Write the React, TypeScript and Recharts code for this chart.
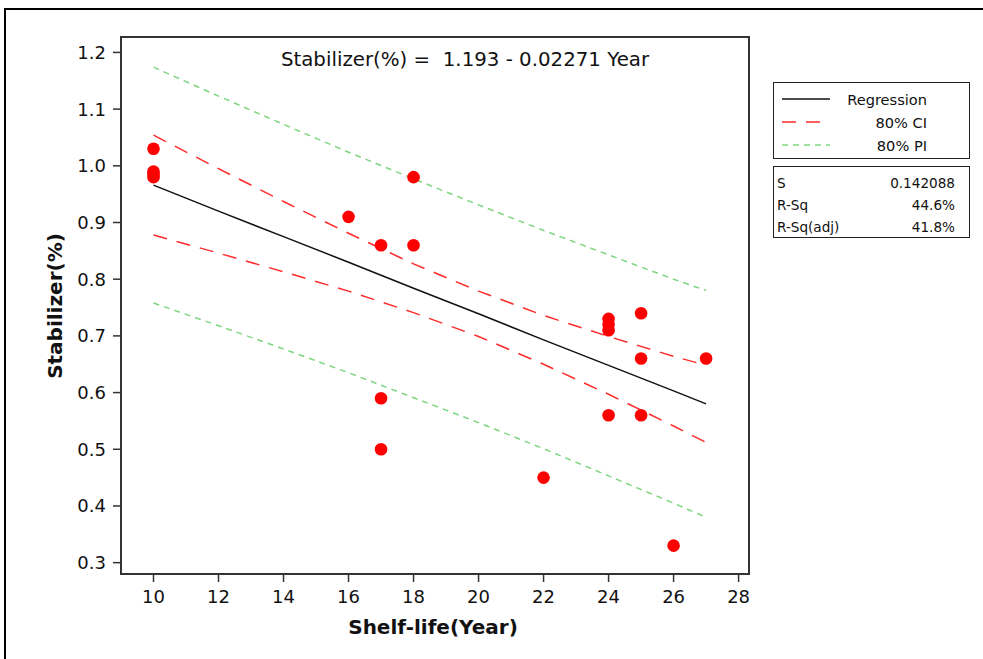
import React from "react";
import { ComposedChart, XAxis, YAxis, Line, Scatter, ReferenceArea } from "recharts";

// Observed data points
const pointX = [10, 10, 10, 10, 16, 17, 17, 17, 18, 18, 22, 24, 24, 24, 24, 25, 25, 25, 26, 27];
const pointY = [1.03, 0.99, 0.985, 0.98, 0.91, 0.86, 0.59, 0.5, 0.98, 0.86, 0.45, 0.73, 0.72, 0.71, 0.56, 0.74, 0.66, 0.56, 0.33, 0.66];

// Fitted line and bands
const lineX = [10, 12, 14, 16, 18, 20, 22, 24, 26, 27];
const regression = [0.966, 0.92, 0.875, 0.83, 0.784, 0.739, 0.693, 0.648, 0.603, 0.58];
const ciUpper = [1.054, 0.995, 0.937, 0.881, 0.827, 0.779, 0.736, 0.699, 0.664, 0.648];
const ciLower = [0.878, 0.846, 0.813, 0.779, 0.741, 0.699, 0.65, 0.597, 0.541, 0.512];
const piUpper = [1.174, 1.123, 1.073, 1.024, 0.977, 0.931, 0.886, 0.843, 0.8, 0.78];
const piLower = [0.758, 0.718, 0.677, 0.635, 0.591, 0.547, 0.501, 0.453, 0.405, 0.38];

const xDomain: [number, number] = [9, 28.32];
const yDomain: [number, number] = [0.28, 1.2272];
const xTicks = [10, 12, 14, 16, 18, 20, 22, 24, 26, 28];
const yTicks = [0.3, 0.4, 0.5, 0.6, 0.7, 0.8, 0.9, 1.0, 1.1, 1.2];

const titleText = "Stabilizer(%) =  1.193 - 0.02271 Year";
const xTitle = "Shelf-life(Year)";
const yTitle = "Stabilizer(%)";
const legendItems = ["Regression", "80% CI", "80% PI"];
const statLabels = ["S", "R-Sq", "R-Sq(adj)"];
const statValues = ["0.142088", "44.6%", "41.8%"];

const points = pointX.map((x, i) => ({ x, y: pointY[i] }));
const mk = (ys: number[]) => lineX.map((x, i) => ({ x, y: ys[i] }));

const FONT = "'DejaVu Sans', Verdana, sans-serif";
const AX = "#333";
const RED = "#ff2a2a";
const GREEN = "#7fd67f";

export default function App() {
  const tickStyle = { fontSize: 18, fill: "#111", fontFamily: FONT };
  return (
    <div
      style={{
        position: "fixed",
        left: 0,
        top: 0,
        width: 983,
        height: 659,
        overflow: "hidden",
        background: "#fff",
        fontFamily: FONT,
      }}
    >
      {/* outer frame */}
      <div style={{ position: "absolute", left: 4, top: 8, width: 2, height: 660, background: "#000" }} />
      <div style={{ position: "absolute", left: 4, top: 8, width: 990, height: 2, background: "#000" }} />

      <div style={{ position: "absolute", left: 0, top: 0 }}>
        <ComposedChart
          width={983}
          height={659}
          margin={{ top: 37, right: 234, bottom: 25, left: 61 }}
        >
          <XAxis
            type="number"
            dataKey="x"
            domain={xDomain}
            ticks={xTicks}
            allowDataOverflow
            height={60}
            tickSize={8}
            tickMargin={8}
            tick={tickStyle}
            axisLine={{ stroke: AX, strokeWidth: 2 }}
            tickLine={{ stroke: AX, strokeWidth: 1.5 }}
          />
          <YAxis
            type="number"
            domain={yDomain}
            ticks={yTicks}
            allowDataOverflow
            width={60}
            tickSize={8}
            tickMargin={7}
            tick={tickStyle}
            tickFormatter={(v: number) => v.toFixed(1)}
            axisLine={{ stroke: AX, strokeWidth: 2 }}
            tickLine={{ stroke: AX, strokeWidth: 1.5 }}
          />
          <ReferenceArea
            x1={xDomain[0]}
            x2={xDomain[1]}
            y1={yDomain[0]}
            y2={yDomain[1]}
            fill="none"
            fillOpacity={0}
            stroke={AX}
            strokeWidth={2}
            ifOverflow="visible"
          />
          <Line data={mk(piUpper)} dataKey="y" stroke={GREEN} strokeWidth={1.5}
            strokeDasharray="6 5" dot={false} isAnimationActive={false} />
          <Line data={mk(piLower)} dataKey="y" stroke={GREEN} strokeWidth={1.5}
            strokeDasharray="6 5" dot={false} isAnimationActive={false} />
          <Line data={mk(ciUpper)} dataKey="y" stroke={RED} strokeWidth={1.5}
            strokeDasharray="14 10" dot={false} isAnimationActive={false} />
          <Line data={mk(ciLower)} dataKey="y" stroke={RED} strokeWidth={1.5}
            strokeDasharray="14 10" dot={false} isAnimationActive={false} />
          <Line data={mk(regression)} dataKey="y" stroke="#111" strokeWidth={1.5}
            dot={false} isAnimationActive={false} />
          <Scatter
            data={points}
            dataKey="y"
            fill="#ff0000"
            isAnimationActive={false}
            shape={(p: any) => <circle cx={p.cx} cy={p.cy} r={6.3} fill="#ff0000" />}
          />
        </ComposedChart>
      </div>

      {/* title */}
      <div
        style={{
          position: "absolute",
          left: 465,
          top: 59,
          transform: "translate(-50%, -50%)",
          fontSize: 19.8,
          whiteSpace: "pre",
          color: "#111",
        }}
      >
        {titleText}
      </div>

      {/* axis titles */}
      <div
        style={{
          position: "absolute",
          left: 433,
          top: 627,
          transform: "translate(-50%, -50%)",
          fontSize: 20,
          fontWeight: "bold",
          whiteSpace: "nowrap",
          color: "#111",
        }}
      >
        {xTitle}
      </div>
      <div
        style={{
          position: "absolute",
          left: 55,
          top: 306,
          transform: "translate(-50%, -50%) rotate(-90deg)",
          fontSize: 20,
          fontWeight: "bold",
          whiteSpace: "nowrap",
          color: "#111",
        }}
      >
        {yTitle}
      </div>

      {/* legend box */}
      <div
        style={{
          position: "absolute",
          left: 773,
          top: 82,
          width: 197,
          height: 77,
          border: "1.5px solid #222",
          boxSizing: "border-box",
          fontSize: 14.6,
          color: "#111",
        }}
      >
        {legendItems.map((name, i) => (
          <div
            key={name}
            style={{
              position: "absolute",
              left: 0,
              top: 6 + i * 23,
              height: 20,
              width: "100%",
              display: "flex",
              alignItems: "center",
            }}
          >
            <svg width={50} height={6} style={{ position: "absolute", left: 8 }}>
              <line
                x1={0}
                y1={3}
                x2={48}
                y2={3}
                stroke={i === 0 ? "#111" : i === 1 ? RED : GREEN}
                strokeWidth={1.5}
                strokeDasharray={i === 0 ? undefined : i === 1 ? "14 10" : "6 5"}
              />
            </svg>
            <span style={{ position: "absolute", right: 42, whiteSpace: "nowrap" }}>{name}</span>
          </div>
        ))}
      </div>

      {/* stats box */}
      <div
        style={{
          position: "absolute",
          left: 773,
          top: 166,
          width: 197,
          height: 72,
          border: "1.5px solid #222",
          boxSizing: "border-box",
          fontSize: 13.6,
          color: "#111",
        }}
      >
        {statLabels.map((lab, i) => (
          <div
            key={lab}
            style={{
              position: "absolute",
              left: 0,
              top: 6 + i * 22,
              height: 20,
              width: "100%",
              display: "flex",
              alignItems: "center",
            }}
          >
            <span style={{ position: "absolute", left: 3, whiteSpace: "nowrap" }}>{lab}</span>
            <span style={{ position: "absolute", right: 14, whiteSpace: "nowrap" }}>{statValues[i]}</span>
          </div>
        ))}
      </div>
    </div>
  );
}
